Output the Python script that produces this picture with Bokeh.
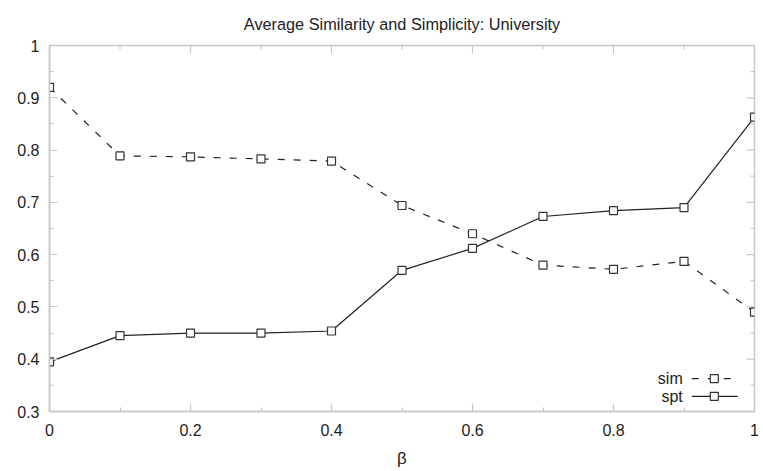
import math
from bokeh.plotting import figure
from bokeh.models import Range1d, LinearAxis, FixedTicker, Label
from bokeh.embed import file_html
from bokeh.resources import INLINE

# ---- data ----
beta = [0.0, 0.1, 0.2, 0.3, 0.4, 0.5, 0.6, 0.7, 0.8, 0.9, 1.0]
sim = [0.920, 0.789, 0.787, 0.783, 0.779, 0.694, 0.640, 0.580, 0.572, 0.587, 0.490]
spt = [0.395, 0.445, 0.450, 0.450, 0.454, 0.570, 0.612, 0.673, 0.684, 0.690, 0.863]
x_ticks = [0, 0.2, 0.4, 0.6, 0.8, 1.0]
x_minor = [0.1, 0.3, 0.5, 0.7, 0.9]
y_ticks = [0.3, 0.4, 0.5, 0.6, 0.7, 0.8, 0.9, 1.0]
y_minor = [0.35, 0.45, 0.55, 0.65, 0.75, 0.85, 0.95]
title = "Average Similarity and Simplicity: University"
x_label = "β"
series_names = ["sim", "spt"]

FONT = "Liberation Sans"
AX = "#c8c8c8"
INK = "#222222"
X0, X1, Y0, Y1 = 0.0, 1.0, 0.3, 1.0

p = figure(width=762, height=470, output_backend="svg", toolbar_location=None,
           x_range=Range1d(X0, X1), y_range=Range1d(Y0, Y1),
           min_border_left=49, min_border_right=8, min_border_top=45, min_border_bottom=57,
           x_axis_location=None, y_axis_location=None)
p.title.text = title
p.title.align = "center"
p.title.vertical_align = "top"
p.title.padding = 6
p.title.text_font = FONT
p.title.text_font_size = "16.3px"
p.title.text_font_style = "normal"
p.title.text_color = INK
p.title.offset = -4
p.title.standoff = 10
p.grid.visible = False
p.outline_line_color = AX
p.outline_line_width = 1.5


def fmt(v):
    return ("%.1f" % v).rstrip("0").rstrip(".")


def make_axis(loc, ticks, minor):
    ax = LinearAxis(ticker=FixedTicker(ticks=ticks, minor_ticks=minor))
    ax.axis_line_color = AX
    ax.axis_line_width = 1.5
    ax.major_tick_line_color = AX
    ax.minor_tick_line_color = AX
    ax.major_tick_line_width = 1.2
    ax.minor_tick_line_width = 1.2
    ax.major_tick_in = 8
    ax.major_tick_out = 0
    ax.minor_tick_in = 4
    ax.minor_tick_out = 0
    ax.major_label_text_font = FONT
    ax.major_label_text_font_size = "16px"
    ax.major_label_text_color = INK
    ax.major_label_overrides = {t: fmt(t) for t in ticks}
    ax.major_label_standoff = 10
    p.add_layout(ax, loc)
    return ax


xb = make_axis("below", x_ticks, x_minor)
xb.major_label_standoff = 12
xb.axis_label = x_label
xb.axis_label_text_font = FONT
xb.axis_label_text_font_size = "17px"
xb.axis_label_text_font_style = "normal"
xb.axis_label_text_color = INK
xb.axis_label_standoff = 10
make_axis("left", y_ticks, y_minor)

# mirrored tick marks on the top and right frame edges (lengths in screen px)
p.ray(x=x_ticks, y=[Y1] * len(x_ticks), length=8, length_units="screen",
      angle=-math.pi / 2, line_color=AX, line_width=1.2)
p.ray(x=x_minor, y=[Y1] * len(x_minor), length=4, length_units="screen",
      angle=-math.pi / 2, line_color=AX, line_width=1.2)
p.ray(x=[X1] * len(y_ticks), y=y_ticks, length=8, length_units="screen",
      angle=math.pi, line_color=AX, line_width=1.2)
p.ray(x=[X1] * len(y_minor), y=y_minor, length=4, length_units="screen",
      angle=math.pi, line_color=AX, line_width=1.2)

p.line(beta, sim, line_color=INK, line_width=1.2, line_dash="7 9")
p.scatter(beta, sim, marker="square", size=8, fill_color="white", line_color="#333333", line_width=1.2)
p.line(beta, spt, line_color=INK, line_width=1.2)
p.scatter(beta, spt, marker="square", size=8, fill_color="white", line_color="#333333", line_width=1.2)

# ---- legend (bottom right, label left of sample) ----
leg_y = [0.363, 0.329]
leg_dash = ["7 9", "solid"]
for name, yy, dash in zip(series_names, leg_y, leg_dash):
    p.add_layout(Label(x=0.911, y=yy, text=name, text_align="right", text_baseline="middle",
                       text_font=FONT, text_font_size="16px", text_color=INK, x_offset=-9))
    p.line([0.911, 0.976], [yy, yy], line_color=INK, line_width=1.2, line_dash=dash)
    p.scatter([0.943], [yy], marker="square", size=8, fill_color="white",
              line_color="#333333", line_width=1.2)

open("out.html", "w").write(file_html(p, INLINE))
